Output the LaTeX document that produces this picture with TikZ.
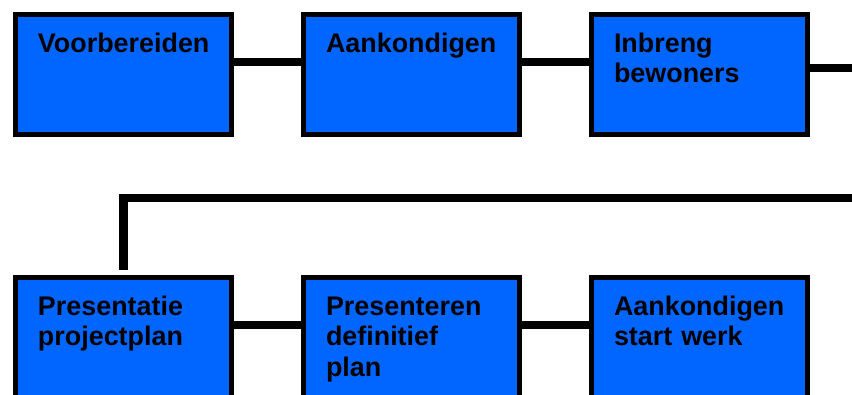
\documentclass[tikz,border=0pt]{standalone}
\usepackage{fontspec}
\setmainfont{Liberation Sans}
\usepackage{tikz}
\definecolor{boxblue}{HTML}{0066FF}

\begin{document}
\begin{tikzpicture}[node distance=288bp,
		box/.style={rectangle,draw=black,line width=5bp,fill=boxblue,minimum width=216bp,minimum height=120bp,
			text width=171bp,align=left,inner xsep=22.5bp,inner ysep=0pt,text height=37.5bp,text depth=82.5bp,
			font=\fontsize{27}{31}\selectfont\bfseries},
		conn/.style={line width=8bp,draw=black}]
		\useasboundingbox (-123.5bp,74.5bp) rectangle (728.5bp,-320.5bp);
		%定义方框
		\node (V) [box] {Voorbereiden};
		\node (A) [box, right of=V] {Aankondigen};
		\node (I) [box, right of=A] {Inbreng\\bewoners};
		\node (P) [box, below of=V, node distance=263bp] {Presentatie\\projectplan};
		\node (D) [box, right of=P] {Presenteren\\definitief\\plan};
		\node (S) [box, right of=D] {Aankondigen\\start werk};
		\path (P.north) ++(0,77.5bp) coordinate (T);
		
		%连接方框
		\draw[conn] ([yshift=12.5bp]V.east) -- ([yshift=12.5bp]A.west);
		\draw[conn] ([yshift=12.5bp]A.east) -- ([yshift=12.5bp]I.west);
		\draw[conn, shorten >=5.5bp] ([yshift=6.5bp]I.east) -- ++(80bp,0) |- (T) -- (P.north);
		\draw[conn] ([yshift=12.5bp]P.east) -- ([yshift=12.5bp]D.west);
		\draw[conn] ([yshift=12.5bp]D.east) -- ([yshift=12.5bp]S.west);
	\end{tikzpicture}
\end{document}
